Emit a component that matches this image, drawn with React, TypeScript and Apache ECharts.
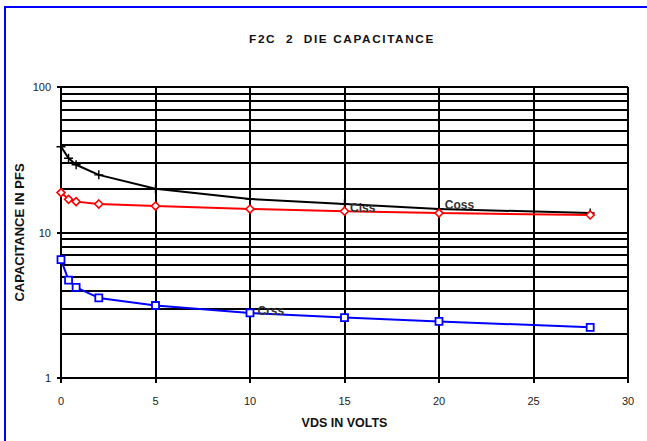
import { useEffect, useRef } from 'react';
import * as echarts from 'echarts';

const vds = [0, 0.4, 0.8, 2, 5, 10, 15, 20, 28];
const ciss = [38.9, 32.4, 29.2, 24.9, 20.0, 17.0, 15.7, 14.5, 13.6];
const coss = [18.8, 16.9, 16.3, 15.7, 15.2, 14.5, 14.0, 13.6, 13.2];
const crss = [6.5, 4.7, 4.2, 3.55, 3.15, 2.8, 2.6, 2.45, 2.23];
const yMinorGrid = [2, 3, 4, 5, 6, 7, 8, 9, 20, 30, 40, 50, 60, 70, 80, 90];
const titleText = 'F2C  2  DIE CAPACITANCE';
const xName = 'VDS IN VOLTS';
const yName = 'CAPACITANCE IN PFS';
// index of the point that carries each series' name label
const cissLabelAt = 6;
const cossLabelAt = 7;
const crssLabelAt = 5;

const FONT = '"Liberation Sans", Arial, Helvetica, sans-serif';

const labelStyle = {
  show: true,
  position: 'right',
  fontSize: 12,
  fontWeight: 'bold',
  color: '#333',
  fontFamily: FONT,
};

function build(values: number[], name: string, at: number, distance: number, offset: number[]) {
  return vds.map((x, i) =>
    i === at
      ? { value: [x, values[i]], label: { ...labelStyle, formatter: name, distance, offset } }
      : [x, values[i]]
  );
}

export default function App() {
  const ref = useRef<HTMLDivElement>(null);
  useEffect(() => {
    if (!ref.current) return;
    const chart = echarts.init(ref.current, undefined, { renderer: 'svg' });
    const plus = 'path://M0,4.2H10V5.8H0Z M4.2,0H5.8V10H4.2Z';
    chart.setOption({
      animation: false,
      backgroundColor: '#fff',
      graphic: [
        {
          type: 'rect',
          silent: true,
          shape: { x: 5, y: 7, width: 800, height: 600 },
          style: { fill: 'none', stroke: '#0000ff', lineWidth: 2 },
        },
        {
          type: 'text',
          silent: true,
          x: 342,
          y: 39,
          style: {
            text: titleText,
            textAlign: 'center',
            textVerticalAlign: 'middle',
            fontSize: 11.8,
            fontWeight: 'bold',
            fontFamily: FONT,
            fill: '#111',
          },
        },
      ],
      grid: { left: 61, right: 19, top: 87, bottom: 63, containLabel: false },
      xAxis: {
        type: 'value',
        min: 0,
        max: 30,
        interval: 5,
        name: xName,
        nameLocation: 'middle',
        nameGap: 38,
        nameMoveOverlap: false,
        nameTextStyle: { fontSize: 12.5, fontWeight: 'bold', color: '#111', fontFamily: FONT },
        axisLine: { show: true, onZero: false, lineStyle: { color: '#000', width: 2 } },
        axisTick: { show: true, length: 5, lineStyle: { color: '#000', width: 2 } },
        axisLabel: { margin: 17, fontSize: 11, color: '#222', fontFamily: FONT },
        splitLine: { show: true, lineStyle: { color: '#000', width: 2 } },
      },
      yAxis: {
        type: 'log',
        logBase: 10,
        min: 1,
        max: 100,
        name: yName,
        nameLocation: 'middle',
        nameGap: 35,
        nameMoveOverlap: false,
        nameTextStyle: { fontSize: 13, fontWeight: 'bold', color: '#111', fontFamily: FONT },
        axisLine: { show: true, lineStyle: { color: '#000', width: 2 } },
        axisTick: { show: true, length: 4, lineStyle: { color: '#000', width: 2 } },
        axisLabel: { margin: 10, fontSize: 11, color: '#222', fontFamily: FONT },
        splitLine: { show: true, lineStyle: { color: '#000', width: 2 } },
        minorTick: { show: false },
        minorSplitLine: { show: false },
      },
      series: [
        {
          name: 'Ciss',
          type: 'line',
          z: 5,
          data: build(ciss, 'Ciss', cissLabelAt, 1, [0, 4]),
          symbol: plus,
          symbolSize: 9,
          itemStyle: { color: '#000' },
          lineStyle: { color: '#000', width: 2 },
        },
        {
          name: 'Coss',
          type: 'line',
          z: 5,
          data: build(coss, 'Coss', cossLabelAt, 1, [0, -8]),
          symbol: 'diamond',
          symbolSize: 8,
          itemStyle: { color: '#fff', borderColor: '#ff0000', borderWidth: 1.6 },
          lineStyle: { color: '#ff0000', width: 2 },
        },
        {
          name: 'Crss',
          type: 'line',
          z: 5,
          data: build(crss, 'Crss', crssLabelAt, 3, [0, -2]),
          symbol: 'rect',
          symbolSize: 7,
          itemStyle: { color: '#fff', borderColor: '#0000ff', borderWidth: 1.8 },
          lineStyle: { color: '#0000ff', width: 2 },
          markLine: {
            silent: true,
            z: 1,
            symbol: ['none', 'none'],
            label: { show: false },
            lineStyle: { color: '#000', width: 2, type: 'solid' },
            emphasis: { disabled: true },
            data: yMinorGrid.map((v) => ({ yAxis: v })),
          },
        },
      ],
    });
    return () => chart.dispose();
  }, []);
  return (
    <>
      <style>{'text[style*="11.8px"]{letter-spacing:1.6px;white-space:pre;}'}</style>
      <div
        ref={ref}
        style={{ position: 'fixed', left: 0, top: 0, width: 647, height: 441, background: '#fff' }}
      />
    </>
  );
}
